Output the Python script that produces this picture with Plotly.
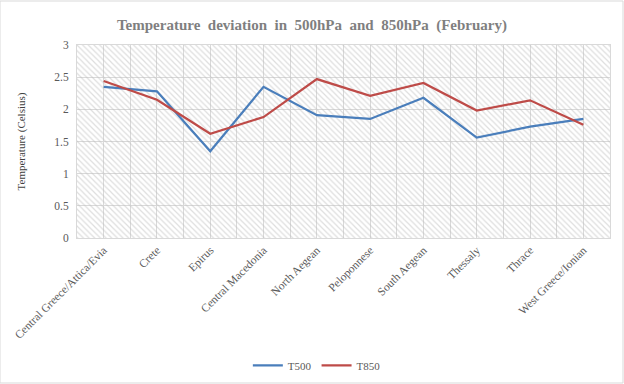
import plotly.graph_objects as go

categories = ["Central Greece/Attica/Evia", "Crete", "Epirus", "Central Macedonia",
              "North Aegean", "Peloponnese", "South Aegean", "Thessaly", "Thrace",
              "West Greece/Ionian"]
t500 = [2.35, 2.28, 1.35, 2.35, 1.91, 1.85, 2.18, 1.56, 1.73, 1.85]
t850 = [2.44, 2.15, 1.62, 1.88, 2.47, 2.21, 2.41, 1.98, 2.14, 1.76]
y_ticks = [0, 0.5, 1, 1.5, 2, 2.5, 3]
y_labels = ["0", "0.5", "1", "1.5", "2", "2.5", "3"]

idx = list(range(len(categories)))
y_max = y_ticks[-1]

font_fam = "Liberation Serif"

fig = go.Figure()
# hatched plot-area background
fig.add_trace(go.Bar(
    x=idx, y=[y_max] * len(idx), width=1,
    marker=dict(color="rgba(0,0,0,0)", line=dict(width=0),
                pattern=dict(shape="\\", fgcolor="#BDBDBD", bgcolor="rgba(0,0,0,0)",
                             size=4, solidity=0.3, fillmode="overlay")),
    showlegend=False, hoverinfo="skip"))
fig.add_trace(go.Scatter(x=idx, y=t500, mode="lines", name="T500",
                         line=dict(color="#4A7EBB", width=2.25)))
fig.add_trace(go.Scatter(x=idx, y=t850, mode="lines", name="T850",
                         line=dict(color="#BE4B48", width=2.25)))

fig.update_layout(
    width=624, height=384,
    margin=dict(l=77, r=14, t=45, b=146, autoexpand=False),
    paper_bgcolor="white", plot_bgcolor="white",
    bargap=0,
    title=dict(text="<b>Temperature  deviation  in  500hPa  and  850hPa  (February)</b>",
               x=0.5, xref="container", y=0.95, yref="container", xanchor="center",
               font=dict(family=font_fam, size=15, color="#7F7F7F")),
    font=dict(family=font_fam, size=11, color="#595959"),
    legend=dict(orientation="h", x=0.45, xanchor="center", y=-0.66, yanchor="middle",
                font=dict(family=font_fam, size=11, color="#595959"),
                itemwidth=30, traceorder="normal"),
    xaxis=dict(range=[-0.5, len(idx) - 0.5], tickvals=idx, ticktext=categories,
               tickangle=-45, showgrid=True, gridcolor="#D9D9D9", gridwidth=1,
               minor=dict(dtick=1, tick0=-0.5, showgrid=True, gridcolor="#D9D9D9",
                          ticks=""),
               showline=True, linecolor="#D9D9D9", mirror=True, zeroline=False,
               ticks="", automargin=False,
               tickfont=dict(family=font_fam, size=11.5, color="#595959")),
    yaxis=dict(range=[0, y_max], tickvals=y_ticks, ticktext=y_labels,
               showgrid=True, gridcolor="#D9D9D9", zeroline=False,
               showline=True, linecolor="#D9D9D9", mirror=True, ticks="",
               automargin=False, ticklabelstandoff=5,
               title=dict(text="Temperature (Celsius)", standoff=26,
                          font=dict(family=font_fam, size=11, color="#404040")),
               tickfont=dict(family=font_fam, size=11.5, color="#595959")),
)
fig.add_shape(type="rect", xref="paper", yref="paper",
              x0=-77 / 533, x1=1 + 13 / 533, y0=-145 / 193, y1=1 + 44 / 193,
              line=dict(color="#D9D9D9", width=1))

fig.write_html("out.html", config={"displayModeBar": False},
               post_script="document.body.style.margin='0';document.body.style.padding='0';")
